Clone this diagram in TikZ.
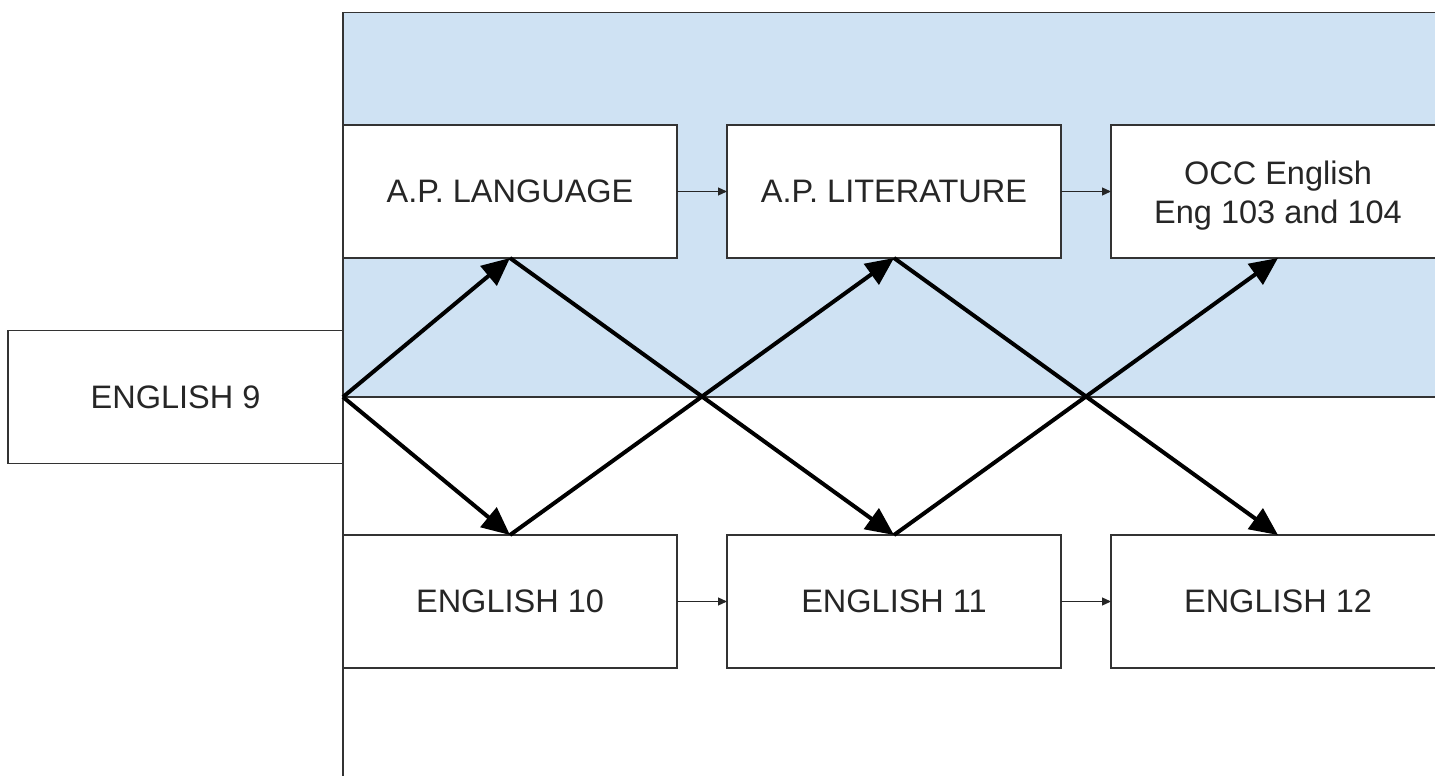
\documentclass[tikz,border=0pt]{standalone}
\usepackage{fontspec}
\setmainfont{Liberation Sans}
\usetikzlibrary{arrows.meta}
\definecolor{bandblue}{HTML}{CFE2F3}
\definecolor{edgegray}{HTML}{333333}
\begin{document}
\begin{tikzpicture}[x=1pt,y=-1pt,
  box/.style={draw=edgegray, line width=1.3pt, fill=white, minimum width=334pt,
    minimum height=133pt, inner sep=0pt, outer sep=0pt,
    font=\fontsize{32.5}{39}\selectfont, align=center, text=black!85},
  thinarrow/.style={draw=black!85, line width=1.2pt, -{Triangle[length=9pt,width=8pt]}},
  bigarrow/.style={draw=black, line width=4pt, -{Triangle[length=28pt,width=25pt]}}]
\clip (0,0) rectangle (1435,776);
\fill[white] (0,0) rectangle (1435,776);
\filldraw[fill=bandblue, draw=edgegray, line width=1.3pt] (343,12.5) rectangle (1460,397);
\draw[edgegray, line width=1.3pt] (343,397) -- (343,800);
\node[box, minimum width=335pt] (e9) at (175.5,397) {ENGLISH 9};
\node[box] (lang) at (510,191.5) {A.P. LANGUAGE};
\node[box] (lit) at (894,191.5) {A.P. LITERATURE};
\node[box] (occ) at (1278,191.5) {\raisebox{-4pt}[\height][\depth]{\parbox{300pt}{\centering OCC English\\Eng 103 and 104}}};
\node[box] (e10) at (510,601.5) {ENGLISH 10};
\node[box] (e11) at (894,601.5) {ENGLISH 11};
\node[box] (e12) at (1278,601.5) {ENGLISH 12};
\draw[thinarrow] (lang.east) -- (lit.west);
\draw[thinarrow] (lit.east) -- (occ.west);
\draw[thinarrow] (e10.east) -- (e11.west);
\draw[thinarrow] (e11.east) -- (e12.west);
\draw[bigarrow] (e9.east) -- (lang.south);
\draw[bigarrow] (e9.east) -- (e10.north);
\draw[bigarrow] (lang.south) -- (e11.north);
\draw[bigarrow] (e10.north) -- (lit.south);
\draw[bigarrow] (lit.south) -- (e12.north);
\draw[bigarrow] (e11.north) -- (occ.south);
\end{tikzpicture}
\end{document}
